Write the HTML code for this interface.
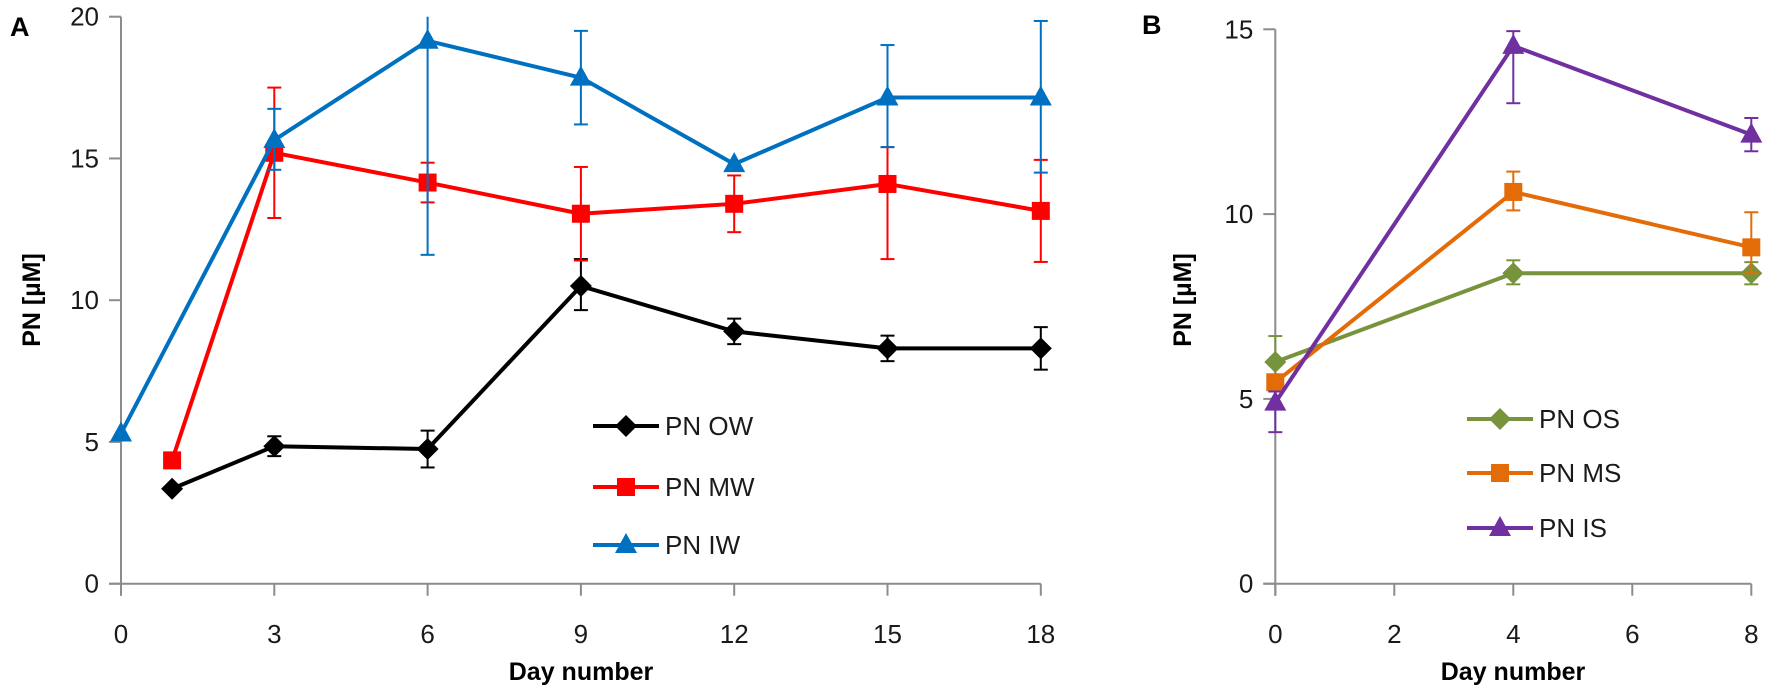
<!DOCTYPE html>
<html><head><meta charset="utf-8"><style>
html,body{margin:0;padding:0;background:#fff;}
svg{display:block;font-family:"Liberation Sans",Arial,sans-serif;}
</style></head><body>
<svg id="s" width="1772" height="693" viewBox="0 0 1772 693" xmlns="http://www.w3.org/2000/svg">
<text x="10" y="36" font-size="27" font-weight="bold">A</text>
<text x="1142" y="34" font-size="27" font-weight="bold">B</text>
<text transform="translate(40,300) rotate(-90)" text-anchor="middle" font-size="25" font-weight="bold">PN [µM]</text>
<text transform="translate(1191,300) rotate(-90)" text-anchor="middle" font-size="25" font-weight="bold">PN [µM]</text>
<text x="581" y="680" text-anchor="middle" font-size="25" font-weight="bold">Day number</text>
<text x="1513" y="680" text-anchor="middle" font-size="25" font-weight="bold">Day number</text>
</svg>
<script>
var s=document.getElementById('s'),NS='http://www.w3.org/2000/svg';
function el(t,a,txt){var e=document.createElementNS(NS,t);for(var k in a)e.setAttribute(k,a[k]);if(txt!=null)e.textContent=txt;s.appendChild(e);return e;}
function marker(type,x,y,c){
 if(type=='d'){el('polygon',{points:(x)+','+(y-11)+' '+(x+11)+','+y+' '+x+','+(y+11)+' '+(x-11)+','+y,fill:c});}
 else if(type=='s'){el('rect',{x:x-9,y:y-9,width:18,height:18,fill:c});}
 else {el('polygon',{points:x+','+(y-12)+' '+(x+11)+','+(y+8)+' '+(x-11)+','+(y+8),fill:c});}
}
function panel(P){
 var X=function(v){return P.x0+P.dx*v},Y=function(v){return P.y0-P.dy*v};
 el('line',{x1:X(0),y1:Y(P.ymax),x2:X(0),y2:P.y0+12,stroke:'#8c8c8c','stroke-width':2});
 el('line',{x1:X(0)-12,y1:P.y0,x2:X(P.xmax),y2:P.y0,stroke:'#8c8c8c','stroke-width':2});
 P.yt.forEach(function(v){el('line',{x1:X(0)-12,y1:Y(v),x2:X(0),y2:Y(v),stroke:'#8c8c8c','stroke-width':2});
  el('text',{x:X(0)-22,y:Y(v)+9,'text-anchor':'end','font-size':26,fill:'#1a1a1a'},String(v));});
 P.xt.forEach(function(v){el('line',{x1:X(v),y1:P.y0,x2:X(v),y2:P.y0+12,stroke:'#8c8c8c','stroke-width':2});
  el('text',{x:X(v),y:643,'text-anchor':'middle','font-size':26,fill:'#1a1a1a'},String(v));});
 P.series.forEach(function(S){
  S.d.forEach(function(p){if(p[2]!=null){var lo=Y(p[2]),hi=Y(Math.min(p[3],P.ymax));
   el('line',{x1:X(p[0]),y1:lo,x2:X(p[0]),y2:hi,stroke:S.c,'stroke-width':2});
   el('line',{x1:X(p[0])-7,y1:lo,x2:X(p[0])+7,y2:lo,stroke:S.c,'stroke-width':2});
   if(p[3]<=P.ymax)el('line',{x1:X(p[0])-7,y1:hi,x2:X(p[0])+7,y2:hi,stroke:S.c,'stroke-width':2});}});
  el('polyline',{points:S.d.map(function(p){return X(p[0])+','+Y(p[1])}).join(' '),fill:'none',stroke:S.c,'stroke-width':4,'stroke-linejoin':'round'});
  S.d.forEach(function(p){marker(S.m,X(p[0]),Y(p[1]),S.c)});
  el('line',{x1:P.lx,y1:S.ly,x2:P.lx+66,y2:S.ly,stroke:S.c,'stroke-width':4});
  marker(S.m,P.lx+33,S.ly,S.c);
  el('text',{x:P.lx+72,y:S.ly+9,'font-size':26,fill:'#1a1a1a'},S.n);
 });
}
panel({x0:121,dx:51.1,y0:583.7,dy:28.35,ymax:20,xmax:18,yt:[0,5,10,15,20],xt:[0,3,6,9,12,15,18],lx:593,
series:[
 {n:'PN OW',c:'#000',m:'d',ly:426,d:[[1,3.35],[3,4.85,4.5,5.2],[6,4.75,4.1,5.4],[9,10.5,9.65,11.45],[12,8.9,8.45,9.35],[15,8.3,7.85,8.75],[18,8.3,7.55,9.05]]},
 {n:'PN MW',c:'#ff0000',m:'s',ly:487,d:[[1,4.35],[3,15.2,12.9,17.5],[6,14.15,13.45,14.85],[9,13.05,11.4,14.7],[12,13.4,12.4,14.4],[15,14.1,11.45,15.4],[18,13.15,11.35,14.95]]},
 {n:'PN IW',c:'#0070c0',m:'t',ly:545,d:[[0,5.3],[3,15.65,14.6,16.75],[6,19.15,11.6,21],[9,17.85,16.2,19.5],[12,14.8],[15,17.15,15.4,19.0],[18,17.15,14.5,19.85]]}
]});
panel({x0:1275.3,dx:59.5,y0:583.7,dy:36.96,ymax:15,xmax:8,yt:[0,5,10,15],xt:[0,2,4,6,8],lx:1467,
series:[
 {n:'PN OS',c:'#77933c',m:'d',ly:419,d:[[0,6.0,5.5,6.7],[4,8.4,8.1,8.75],[8,8.4,8.1,8.7]]},
 {n:'PN MS',c:'#e36c09',m:'s',ly:473,d:[[0,5.45],[4,10.6,10.1,11.15],[8,9.1,8.4,10.05]]},
 {n:'PN IS',c:'#7030a0',m:'t',ly:528,d:[[0,4.9,4.1,5.2],[4,14.55,13.0,14.95],[8,12.15,11.7,12.6]]}
]});
</script>
</body></html>
